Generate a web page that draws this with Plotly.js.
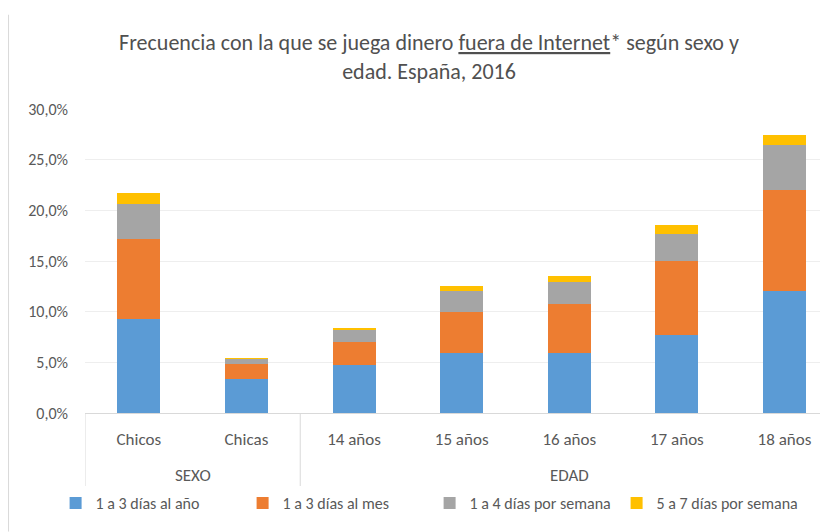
<!DOCTYPE html>
<html>
<head>
<meta charset="utf-8">
<script src="https://cdn.plot.ly/plotly-3.0.1.min.js"></script>
<style>html,body{margin:0;padding:0;background:#fff;}#chart{width:833px;height:532px;}</style>
</head>
<body>
<div id="chart"></div>
<script>
const groups = ["SEXO","SEXO","EDAD","EDAD","EDAD","EDAD","EDAD"];
const categories = ["Chicos","Chicas","14 años","15 años","16 años","17 años","18 años"];
const seriesNames = ["1 a 3 días al año","1 a 3 días al mes","1 a 4 días por semana","5 a 7 días por semana"];
const diasAlAno     = [9.3, 3.4, 4.7, 5.9, 5.9, 7.7, 12.0];
const diasAlMes     = [7.9, 1.4, 2.3, 4.1, 4.9, 7.3, 10.0];
const diasPorSemana = [3.4, 0.5, 1.2, 2.0, 2.1, 2.7, 4.4];
const diasSemana57  = [1.1, 0.1, 0.2, 0.5, 0.6, 0.9, 1.0];
const colors = ["#5b9bd5","#ed7d31","#a5a5a5","#ffc000"];
const values = [diasAlAno, diasAlMes, diasPorSemana, diasSemana57];

const font = "Carlito, 'Liberation Sans Narrow', 'Liberation Sans', Arial, sans-serif";
const XMAX = 6.33;

const traces = values.map((v, i) => ({
  type: "bar",
  name: seriesNames[i],
  x: categories,
  y: v,
  marker: {color: colors[i]},
  hoverinfo: "skip"
}));

// group labels and dividers derived from the groups array
const annotations = [];
const shapes = [];
let start = 0;
for (let i = 1; i <= groups.length; i++) {
  if (i === groups.length || groups[i] !== groups[start]) {
    const mid = (start + i - 1) / 2;
    annotations.push({
      text: groups[start], xref: "x", yref: "paper",
      x: mid, y: -0.204,
      showarrow: false, xanchor: "center", yanchor: "middle",
      font: {size: 17, color: "#595959"}
    });
    const b = start - 0.5;
    shapes.push({type: "line", xref: "x", yref: "paper", x0: b, x1: b, y0: 0, y1: -0.245,
      line: {color: "#d9d9d9", width: 1}});
    start = i;
  }
}
shapes.push({type: "line", xref: "paper", yref: "paper", x0: -0.104, x1: -0.104, y0: 1.31, y1: -0.39,
  line: {color: "#d9d9d9", width: 1}});

const layout = {
  width: 833, height: 532,
  barmode: "stack",
  bargap: 0.6,
  separators: ",.",
  paper_bgcolor: "#fff",
  plot_bgcolor: "#fff",
  font: {family: font, color: "#595959", size: 17},
  margin: {l: 85, r: 13, t: 109, b: 119},
  title: {
    text: "Frecuencia con la que se juega dinero <span style=\"text-decoration:underline\">fuera de Internet</span>* según sexo y<br>edad. España, 2016",
    x: 0.515, xref: "container", xanchor: "center",
    y: 0.906, yref: "container", yanchor: "middle",
    font: {family: font, size: 22, color: "#505050"}
  },
  xaxis: {
    type: "category",
    range: [-0.5, XMAX],
    showline: true, linecolor: "#d9d9d9", linewidth: 1,
    ticks: "", tickfont: {size: 17, color: "#595959"},
    ticklabelstandoff: 11,
    showgrid: false, automargin: false
  },
  yaxis: {
    range: [0, 30], dtick: 5, tick0: 0,
    tickformat: ".1f", ticksuffix: "%",
    showgrid: true, gridcolor: "#eeeeee", gridwidth: 1,
    zeroline: false, showline: false,
    tickfont: {size: 16, color: "#595959"},
    ticklabelstandoff: 16, automargin: false
  },
  legend: {
    orientation: "h", x: -0.04, xanchor: "left", xref: "paper",
    y: -0.296, yanchor: "middle", yref: "paper",
    font: {size: 16, color: "#595959"},
    traceorder: "normal", itemwidth: 30,
    entrywidth: 142, entrywidthmode: "pixels"
  },
  annotations: annotations,
  shapes: shapes
};

Plotly.newPlot("chart", traces, layout, {displayModeBar: false, staticPlot: true});
</script>
</body>
</html>
